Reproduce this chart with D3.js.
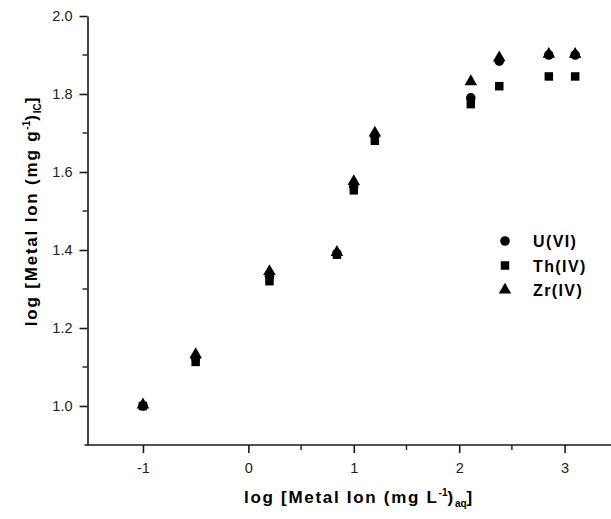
<!DOCTYPE html>
<html>
<head>
<meta charset="utf-8">
<script src="https://cdn.jsdelivr.net/npm/d3@7"></script>
<style>
  html, body { margin: 0; padding: 0; background: #fff; }
  svg { display: block; font-family: "Liberation Sans", Arial, sans-serif; }
</style>
</head>
<body>
<svg id="chart" width="611" height="519"></svg>
<script>
// log concentration in solution (x) for each equilibrium point
const logCaq = [-1.0, -0.5, 0.2, 0.84, 1.0, 1.2, 2.11, 2.38, 2.85, 3.1];

// log uptake on the sorbent for each metal ion
const uVI  = [1.0, 1.123, 1.333, 1.39, 1.564, 1.692, 1.79, 1.884, 1.9, 1.9];
const thIV = [1.0, 1.113, 1.32, 1.388, 1.553, 1.68, 1.774, 1.82, 1.845, 1.845];
const zrIV = [1.003, 1.132, 1.345, 1.394, 1.576, 1.7, 1.832, 1.893, 1.902, 1.902];

const xMajorTicks = [-1, 0, 1, 2, 3];
const xMinorTicks = [0.5, 1.5, 2.5];
const yMajorTicks = [1.0, 1.2, 1.4, 1.6, 1.8, 2.0];
const yMinorTicks = [1.1, 1.3, 1.5, 1.7, 1.9];

const seriesNames = ["U(VI)", "Th(IV)", "Zr(IV)"];

const series = [
  { name: seriesNames[0], values: uVI,  symbol: d3.symbolCircle,   size: 72 },
  { name: seriesNames[1], values: thIV, symbol: d3.symbolSquare,   size: 72 },
  { name: seriesNames[2], values: zrIV, symbol: d3.symbolTriangle, size: 68 }
];

const svg = d3.select("#chart");
const ink = "#1a1a1a";

const x = d3.scaleLinear().domain([-1.526, 3.44]).range([87.5, 611]);
const y = d3.scaleLinear().domain([0.9, 2.0]).range([445, 16]);

// plain hyphen for negative tick labels
const xFmt = d => String(d);

// x axis
const xAxis = svg.append("g").attr("transform", `translate(0,${y(0.9)})`);
xAxis.call(d3.axisBottom(x).tickValues(xMajorTicks).tickFormat(xFmt)
  .tickSize(8).tickPadding(10).tickSizeOuter(0));
xAxis.selectAll(".tick line").attr("stroke", ink).attr("stroke-width", 1.6);
xAxis.selectAll(".tick text").attr("fill", "#222").style("font-size", "14.5px");
xAxis.select(".domain").attr("stroke", ink).attr("stroke-width", 1.6)
  .attr("d", `M${x.range()[0] - 3},0H${x.range()[1]}`);
xAxis.selectAll(".minor").data(xMinorTicks).enter().append("line")
  .attr("class", "minor")
  .attr("x1", d => x(d)).attr("x2", d => x(d))
  .attr("y1", 0).attr("y2", 5)
  .attr("stroke", ink).attr("stroke-width", 1.4);

// y axis
const yAxis = svg.append("g").attr("transform", `translate(${x.range()[0]},0)`);
yAxis.call(d3.axisLeft(y).tickValues(yMajorTicks).tickFormat(d3.format(".1f"))
  .tickSize(8).tickPadding(7).tickSizeOuter(0));
yAxis.selectAll(".tick line").attr("stroke", ink).attr("stroke-width", 1.6);
yAxis.selectAll(".tick text").attr("fill", "#222").style("font-size", "14.5px");
yAxis.select(".domain").attr("stroke", ink).attr("stroke-width", 1.6);
yAxis.selectAll(".minor").data(yMinorTicks).enter().append("line")
  .attr("class", "minor")
  .attr("x1", 0).attr("x2", -5)
  .attr("y1", d => y(d)).attr("y2", d => y(d))
  .attr("stroke", ink).attr("stroke-width", 1.4);

// data markers
const plot = svg.append("g");
series.forEach(s => {
  const sym = d3.symbol().type(s.symbol).size(s.size);
  plot.append("g").selectAll("path").data(logCaq.map((d, i) => [d, s.values[i]]))
    .enter().append("path")
    .attr("d", sym)
    .attr("transform", d => `translate(${x(d[0])},${y(d[1])})`)
    .attr("fill", "#000");
});

// legend
const legend = svg.append("g");
series.forEach((s, i) => {
  const ly = 241 + i * 24.5;
  legend.append("path")
    .attr("d", d3.symbol().type(s.symbol).size(s.size)())
    .attr("transform", `translate(505,${ly})`)
    .attr("fill", "#000");
  legend.append("text")
    .attr("x", 533).attr("y", ly + 6)
    .attr("fill", "#000")
    .style("font-size", "16px").style("font-weight", "bold")
    .style("letter-spacing", "1.4px")
    .text(s.name);
});

// axis titles
const xt = svg.append("text")
  .attr("x", 359).attr("y", 503)
  .attr("text-anchor", "middle")
  .style("font-size", "17px").style("font-weight", "bold")
  .style("letter-spacing", "1.7px").attr("fill", "#000");
xt.append("tspan").text("log [Metal Ion (mg L");
xt.append("tspan").attr("dy", -7).style("font-size", "10px").style("letter-spacing", "0px").text("-1");
xt.append("tspan").attr("dy", 7).text(")");
xt.append("tspan").attr("dy", 4).style("font-size", "10px").style("letter-spacing", "0px").text("aq");
xt.append("tspan").attr("dy", -4).text("]");

const yt = svg.append("text")
  .attr("transform", "translate(37,211) rotate(-90)")
  .attr("text-anchor", "middle")
  .style("font-size", "17px").style("font-weight", "bold")
  .style("letter-spacing", "1.8px").attr("fill", "#000");
yt.append("tspan").text("log [Metal Ion (mg g");
yt.append("tspan").attr("dy", -7).style("font-size", "10px").style("letter-spacing", "0px").text("-1");
yt.append("tspan").attr("dy", 7).text(")");
yt.append("tspan").attr("dy", 4).style("font-size", "10px").style("letter-spacing", "0px").text("IC");
yt.append("tspan").attr("dy", -4).text("]");
</script>
</body>
</html>
